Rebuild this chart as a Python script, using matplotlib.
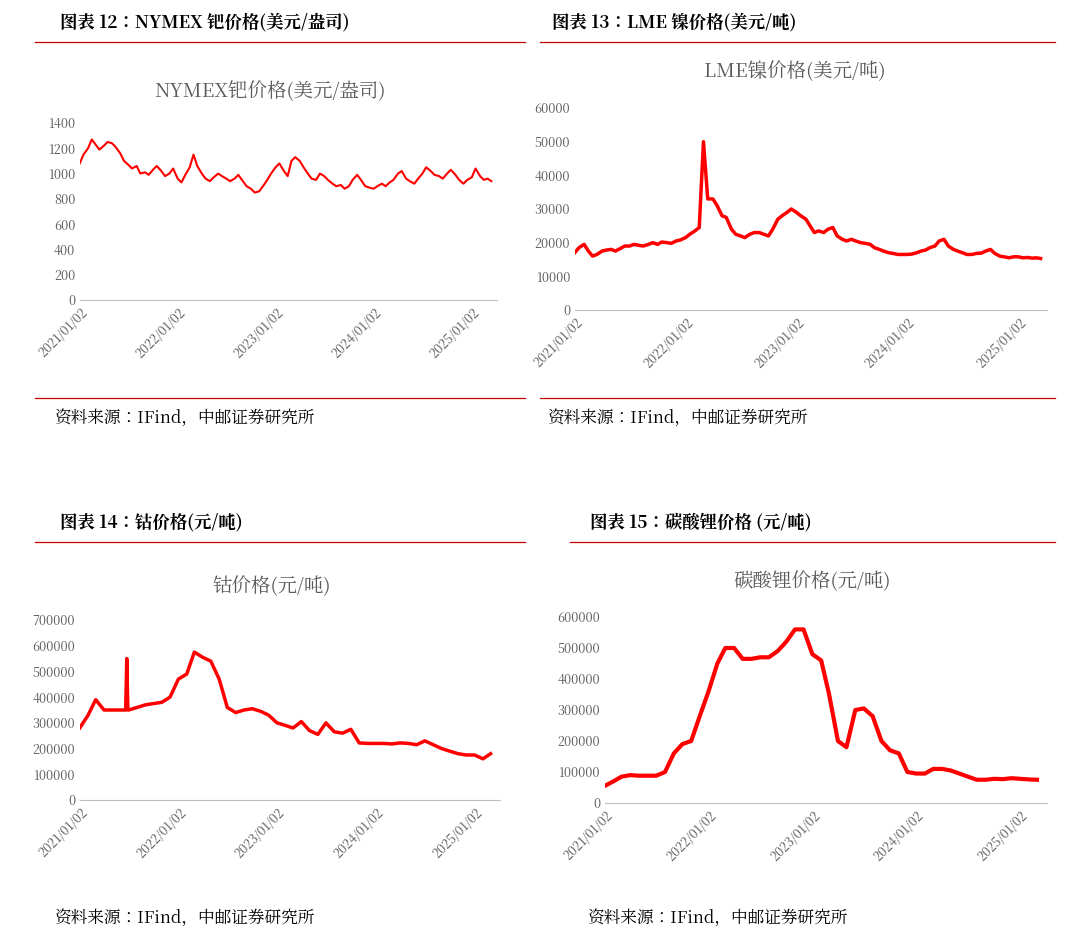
import matplotlib
matplotlib.use("Agg")
import matplotlib.pyplot as plt
import matplotlib.font_manager as fm
import pandas as pd
from matplotlib.lines import Line2D

cjk = [f.name for f in fm.fontManager.ttflist if "CJK" in f.name or "CJK" in f.fname]
cjk_name = "Noto Sans CJK SC"
for n in cjk:
    if "SC" in n:
        cjk_name = n
        break
else:
    if cjk:
        cjk_name = cjk[0]
plt.rcParams["font.family"] = [cjk_name, "DejaVu Sans"]

palladium = [1080,1150, 1200,1270, 1230,1190, 1220,1250, 1240,1210, 1160,1100, 1070,1040, 1060,1000, 1010,990, 1030,1060, 1020,980, 1000,1040,
             960,930, 1000,1050, 1150,1060, 1000,960, 940,970, 1000,980, 960,940, 960,990, 940,900, 880,850, 860,900, 950,1000,
             1050,1080, 1020,980, 1100,1130, 1100,1050, 1000,960, 950,1000, 980,950, 920,900, 910,880, 900,950, 990,950, 900,890,
             880,900, 920,900, 930,950, 1000,1020, 960,940, 920,960, 1000,1050, 1020,990, 980,960, 1000,1030, 990,950, 920,950,
             970,1040, 980,950, 960,940]
nickel = [17000,18500, 19500,17500, 16000,16500, 17500,17800, 18000,17500, 18300,19000, 19000,19500, 19200,19000, 19500,20000, 19500,20200, 20000,19800, 20500,20800,
          21500,22500, 23500,24500, 50000,33000, 33000,31000, 28000,27500, 24000,22500, 22000,21500, 22500,23000, 23000,22500, 22000,24000, 27000,28000, 29000,30000,
          29000,28000, 27000,25000, 23000,23500, 23000,24000, 24500,22000, 21000,20500, 21000,20500, 20000,19800, 19500,18500, 18000,17500, 17000,16800, 16500,16500,
          16500,16600, 17000,17500, 17800,18500, 19000,20500, 21000,19000, 18000,17500, 17000,16500, 16500,16800, 16900,17500, 18000,16800, 16000,15800, 15500,15800,
          15800,15500, 15600,15400, 15500,15300]
cobalt = [280000,330000,390000,350000,350000,350000,350000,360000,370000,375000,380000,400000,
          470000,490000,575000,555000,540000,470000,360000,340000,350000,355000,345000,330000,
          300000,290000,280000,305000,270000,255000,300000,265000,260000,275000,222000,220000,
          220000,220000,218000,222000,220000,215000,230000,215000,200000,190000,180000,175000,
          175000,160000,180000]
cobalt_spike_dates = ["2021-06-20", "2021-06-24", "2021-06-28"]
cobalt_spike = [350000, 550000, 350000]
lithium = [55000,70000,85000,90000,88000,88000,88000,100000,160000,190000,200000,280000,
           360000,450000,500000,500000,465000,465000,470000,470000,490000,520000,560000,560000,
           480000,460000,350000,200000,180000,300000,305000,280000,200000,170000,160000,100000,
           95000,95000,110000,110000,105000,95000,85000,75000,75000,78000,77000,80000,
           78000,76000,75000]

semi = pd.date_range("2021-01-01", periods=len(palladium), freq="SMS")
monthly = pd.date_range("2021-01-01", periods=len(cobalt), freq="MS")
cs = pd.Series(cobalt, index=monthly)
cs = pd.concat([cs, pd.Series(cobalt_spike, index=pd.to_datetime(cobalt_spike_dates))]).sort_index()

tick_labels = ["2021/01/02", "2022/01/02", "2023/01/02", "2024/01/02", "2025/01/02"]
tick_dates = pd.to_datetime(tick_labels, format="%Y/%m/%d")

fig = plt.figure(figsize=(10.8, 9.44), dpi=100)
W, H = 1080, 944

def hline(x0, x1, y):
    fig.add_artist(Line2D([x0/W, x1/W], [1-y/H, 1-y/H], color="#C00000", lw=0.9))

def txt(x, y, s, **kw):
    fig.text(x/W, 1-y/H, s, va="center", **kw)

def panel(rect, x, y, ymax, step, title, ty, tx, lw):
    l, t, r, b = rect
    ax = fig.add_axes([l/W, 1-b/H, (r-l)/W, (b-t)/H])
    ax.plot(x, y, color="#FF0000", lw=lw)
    ax.set_ylim(0, ymax)
    ax.set_yticks(range(0, ymax+1, step))
    ax.set_xlim(pd.Timestamp("2021-01-02"), pd.Timestamp("2025-04-05"))
    ax.set_xticks(tick_dates)
    ax.set_xticklabels(tick_labels, rotation=45, ha="right", rotation_mode="anchor")
    for s in ["top", "right", "left"]:
        ax.spines[s].set_visible(False)
    ax.spines["bottom"].set_color("#BFBFBF")
    ax.tick_params(length=0, labelsize=9, colors="#595959")
    fig.text(tx/W, 1-ty/H, title, ha="center", va="center", fontsize=14, color="#595959")
    return ax

panel((80, 123, 497, 300), semi, palladium, 1400, 200, "NYMEX钯价格(美元/盎司)", 92, 270, 1.5)
panel((575, 108, 1047, 310), semi, nickel, 60000, 10000, "LME镍价格(美元/吨)", 72, 795, 2.5)
panel((80, 620, 500, 800), cs.index, cs.values, 700000, 100000, "钴价格(元/吨)", 587, 272, 2.5)
panel((605, 617, 1047, 803), monthly, lithium, 600000, 100000, "碳酸锂价格(元/吨)", 582, 812, 3)

txt(60, 22, "图表 12：NYMEX 钯价格(美元/盎司)", fontsize=12.5, fontweight="bold")
txt(552, 22, "图表 13：LME 镍价格(美元/吨)", fontsize=12.5, fontweight="bold")
txt(60, 522, "图表 14：钴价格(元/吨)", fontsize=12.5, fontweight="bold")
txt(590, 522, "图表 15：碳酸锂价格 (元/吨)", fontsize=12.5, fontweight="bold")
hline(35, 525, 42); hline(540, 1055, 42)
hline(35, 525, 398); hline(540, 1055, 398)
hline(35, 525, 542); hline(570, 1055, 542)
src = "资料来源：IFind，中邮证券研究所"
txt(55, 418, src, fontsize=12)
txt(548, 418, src, fontsize=12)
txt(55, 918, src, fontsize=12)
txt(588, 918, src, fontsize=12)

fig.savefig("out.png", dpi=100)
